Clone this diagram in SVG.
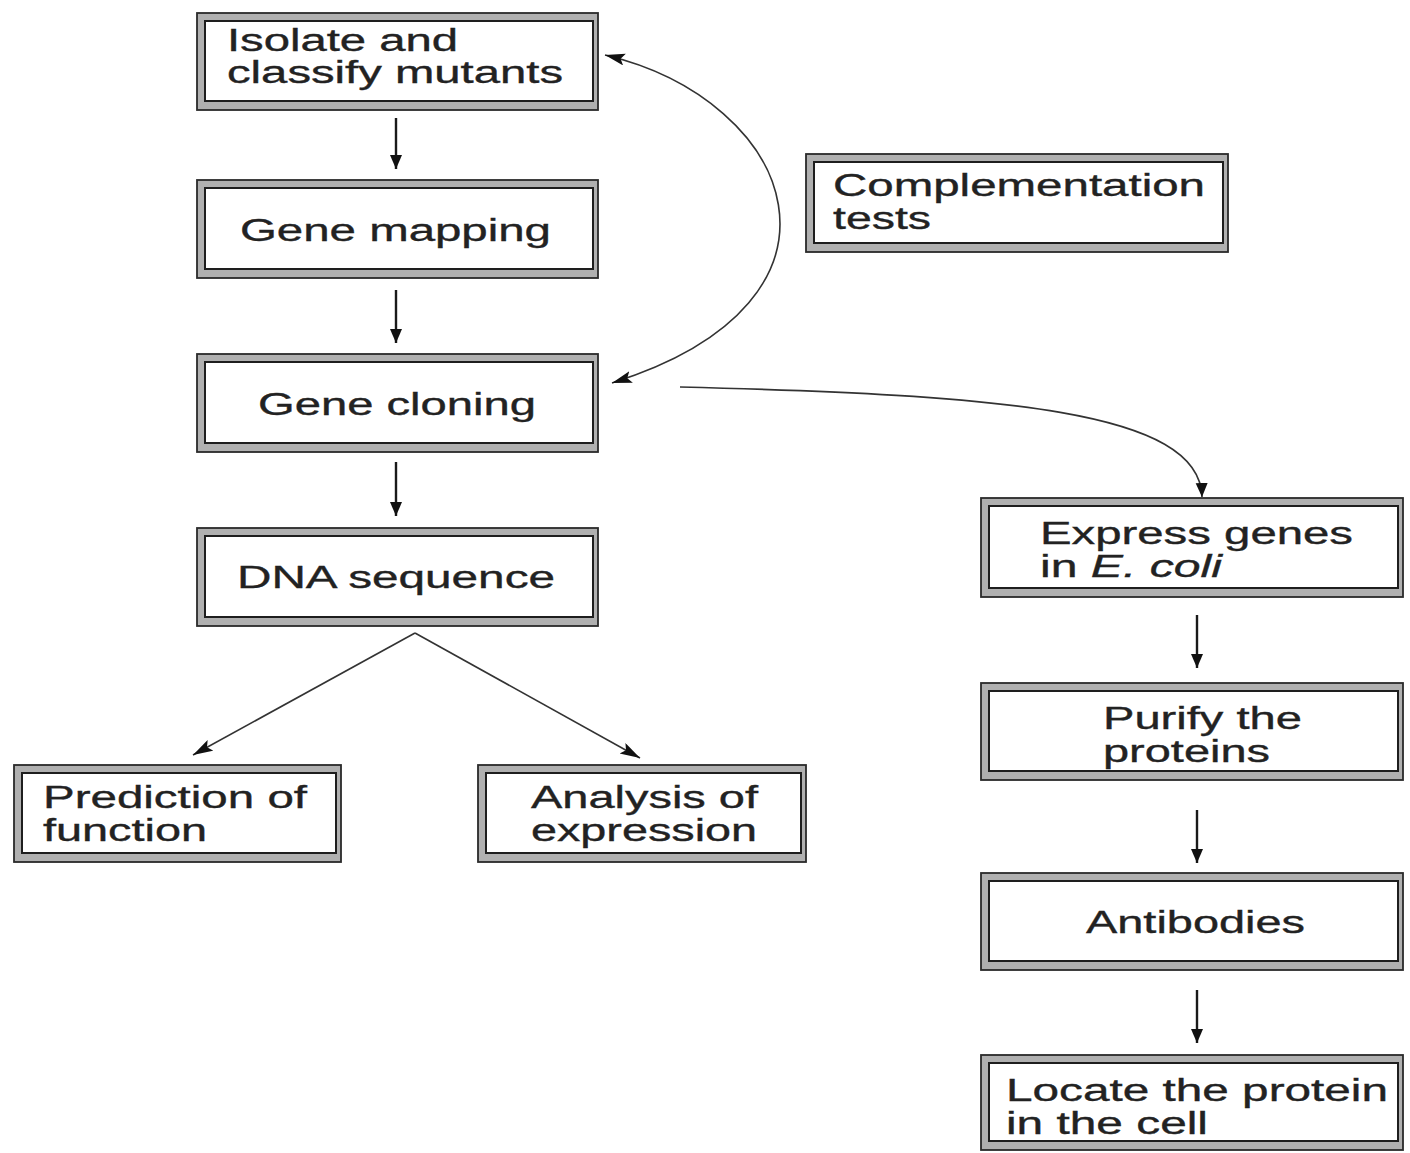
<svg xmlns="http://www.w3.org/2000/svg" width="1410" height="1153" viewBox="0 0 1410 1153">
<style>
.outer{fill:#b0b0b0;stroke:#2a2a2a;stroke-width:1.8}
.inner{fill:#ffffff;stroke:#1e1e1e;stroke-width:2}
.t{font-family:"Liberation Sans",Arial,sans-serif;font-size:31px;fill:#222;stroke:#222;stroke-width:0.35}
.c{fill:none;stroke:#1a1a1a;stroke-width:2.4}
.cc{fill:none;stroke:#333;stroke-width:1.6}
</style>
<defs>
<marker id="ah" markerUnits="userSpaceOnUse" markerWidth="16" markerHeight="14" refX="14" refY="6" orient="auto">
<path d="M0,0 L14,6 L0,12 Z" fill="#111"/>
</marker>
<marker id="ahl" markerUnits="userSpaceOnUse" markerWidth="22" markerHeight="14" refX="20" refY="6" orient="auto">
<path d="M0,0 L20,6 L0,12 L4,6 Z" fill="#111"/>
</marker>
<marker id="ahls" markerUnits="userSpaceOnUse" markerWidth="22" markerHeight="14" refX="20" refY="6" orient="auto-start-reverse">
<path d="M0,0 L20,6 L0,12 L4,6 Z" fill="#111"/>
</marker>
</defs>
<rect width="1410" height="1153" fill="#ffffff"/>

<g id="connectors">
<line class="c" x1="396" y1="118" x2="396" y2="169" marker-end="url(#ah)"/>
<line class="c" x1="396" y1="290" x2="396" y2="343" marker-end="url(#ah)"/>
<line class="c" x1="396" y1="462" x2="396" y2="516" marker-end="url(#ah)"/>
<line class="cc" x1="415" y1="633" x2="193" y2="755" marker-end="url(#ahl)"/>
<line class="cc" x1="415" y1="633" x2="640" y2="758" marker-end="url(#ahl)"/>
<path class="cc" d="M605,55 C795,100 875,300 612,383" marker-start="url(#ahls)" marker-end="url(#ahl)"/>
<path class="cc" d="M680,387 C1000,395 1200,410 1202,497" marker-end="url(#ah)"/>
<line class="c" x1="1197" y1="615" x2="1197" y2="668" marker-end="url(#ah)"/>
<line class="c" x1="1197" y1="810" x2="1197" y2="863" marker-end="url(#ah)"/>
<line class="c" x1="1197" y1="990" x2="1197" y2="1043" marker-end="url(#ah)"/>
</g>

<g id="n1">
<rect class="outer" x="197" y="13" width="401" height="97"/>
<rect class="inner" x="205" y="21" width="388" height="80"/>
<text class="t" x="227" y="51" textLength="231" lengthAdjust="spacingAndGlyphs">Isolate and</text>
<text class="t" x="227" y="83" textLength="336" lengthAdjust="spacingAndGlyphs">classify mutants</text>
</g>
<g id="n2">
<rect class="outer" x="197" y="180" width="401" height="98"/>
<rect class="inner" x="205" y="188" width="388" height="81"/>
<text class="t" x="240" y="241" textLength="311" lengthAdjust="spacingAndGlyphs">Gene mapping</text>
</g>
<g id="n3">
<rect class="outer" x="197" y="354" width="401" height="98"/>
<rect class="inner" x="205" y="362" width="388" height="81"/>
<text class="t" x="258" y="415" textLength="278" lengthAdjust="spacingAndGlyphs">Gene cloning</text>
</g>
<g id="n4">
<rect class="outer" x="197" y="528" width="401" height="98"/>
<rect class="inner" x="205" y="536" width="388" height="81"/>
<text class="t" x="237" y="588" textLength="318" lengthAdjust="spacingAndGlyphs">DNA sequence</text>
</g>
<g id="n5">
<rect class="outer" x="14" y="765" width="327" height="97"/>
<rect class="inner" x="22" y="773" width="314" height="80"/>
<text class="t" x="43" y="808" textLength="264" lengthAdjust="spacingAndGlyphs">Prediction of</text>
<text class="t" x="43" y="841" textLength="164" lengthAdjust="spacingAndGlyphs">function</text>
</g>
<g id="n6">
<rect class="outer" x="478" y="765" width="328" height="97"/>
<rect class="inner" x="486" y="773" width="315" height="80"/>
<text class="t" x="531" y="808" textLength="227" lengthAdjust="spacingAndGlyphs">Analysis of</text>
<text class="t" x="531" y="841" textLength="226" lengthAdjust="spacingAndGlyphs">expression</text>
</g>
<g id="n7">
<rect class="outer" x="806" y="154" width="422" height="98"/>
<rect class="inner" x="814" y="162" width="409" height="81"/>
<text class="t" x="833" y="196" textLength="372" lengthAdjust="spacingAndGlyphs">Complementation</text>
<text class="t" x="833" y="229" textLength="98" lengthAdjust="spacingAndGlyphs">tests</text>
</g>
<g id="n8">
<rect class="outer" x="981" y="498" width="422" height="99"/>
<rect class="inner" x="989" y="506" width="409" height="82"/>
<text class="t" x="1040" y="544" textLength="313" lengthAdjust="spacingAndGlyphs">Express genes</text>
<text class="t" x="1040" y="577" textLength="182" lengthAdjust="spacingAndGlyphs">in <tspan font-style="italic">E. coli</tspan></text>
</g>
<g id="n9">
<rect class="outer" x="981" y="683" width="422" height="97"/>
<rect class="inner" x="989" y="691" width="409" height="80"/>
<text class="t" x="1103" y="729" textLength="199" lengthAdjust="spacingAndGlyphs">Purify the</text>
<text class="t" x="1103" y="762" textLength="167" lengthAdjust="spacingAndGlyphs">proteins</text>
</g>
<g id="n10">
<rect class="outer" x="981" y="873" width="422" height="97"/>
<rect class="inner" x="989" y="881" width="409" height="80"/>
<text class="t" x="1086" y="933" textLength="219" lengthAdjust="spacingAndGlyphs">Antibodies</text>
</g>
<g id="n11">
<rect class="outer" x="981" y="1055" width="422" height="95"/>
<rect class="inner" x="989" y="1063" width="409" height="78"/>
<text class="t" x="1006" y="1101" textLength="382" lengthAdjust="spacingAndGlyphs">Locate the protein</text>
<text class="t" x="1006" y="1134" textLength="202" lengthAdjust="spacingAndGlyphs">in the cell</text>
</g>
</svg>
